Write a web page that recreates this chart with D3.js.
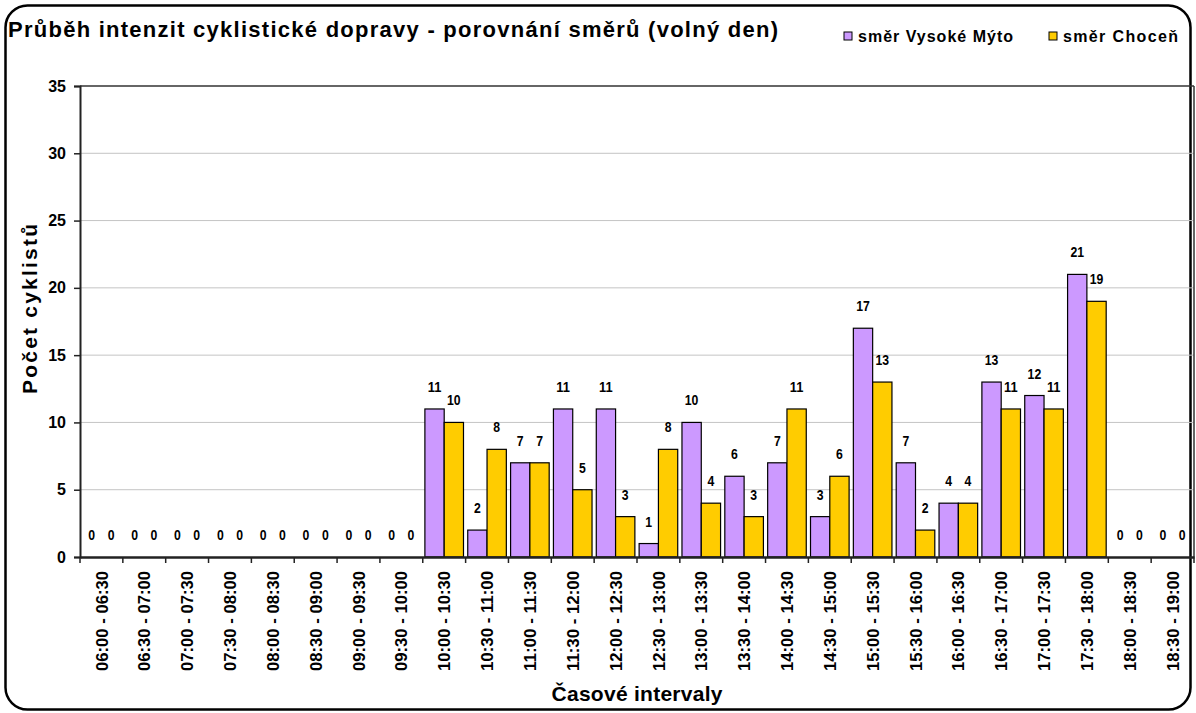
<!DOCTYPE html>
<html>
<head>
<meta charset="utf-8">
<script src="https://cdn.jsdelivr.net/npm/d3@7"></script>
<style>
  body { margin: 0; background: #fff; }
  svg text { font-family: Arial, "Liberation Sans", sans-serif; font-weight: bold; }
</style>
</head>
<body>
<svg id="chart" width="1196" height="713"></svg>
<script>
// časové intervaly
var categories = ["06:00 - 06:30", "06:30 - 07:00", "07:00 - 07:30", "07:30 - 08:00",
    "08:00 - 08:30", "08:30 - 09:00", "09:00 - 09:30", "09:30 - 10:00",
    "10:00 - 10:30", "10:30 - 11:00", "11:00 - 11:30", "11:30 - 12:00",
    "12:00 - 12:30", "12:30 - 13:00", "13:00 - 13:30", "13:30 - 14:00",
    "14:00 - 14:30", "14:30 - 15:00", "15:00 - 15:30", "15:30 - 16:00",
    "16:00 - 16:30", "16:30 - 17:00", "17:00 - 17:30", "17:30 - 18:00",
    "18:00 - 18:30", "18:30 - 19:00"];
var vysokeMyto = [0, 0, 0, 0, 0, 0, 0, 0, 11, 2, 7, 11, 11, 1, 10, 6, 7, 3, 17, 7, 4, 13, 12, 21, 0, 0];
var chocen = [0, 0, 0, 0, 0, 0, 0, 0, 10, 8, 7, 5, 3, 8, 4, 3, 11, 6, 13, 2, 4, 11, 11, 19, 0, 0];
var seriesNames = ["směr Vysoké Mýto", "směr Choceň"];
var yTicks = [0, 5, 10, 15, 20, 25, 30, 35];

var colors = ["#CC99FF", "#FFCC00"];

var svg = d3.select("#chart"),
    width = +svg.attr("width"),
    height = +svg.attr("height");

// pozor: "top" je v prohlížeči window.top, proto jiná jména
var plotLeft = 80, plotRight = 1194, plotTop = 86, plotBottom = 557;

// rámeček
svg.append("rect")
    .attr("x", 5.5).attr("y", 5.5)
    .attr("width", width - 11).attr("height", height - 9)
    .attr("rx", 22).attr("ry", 22)
    .attr("fill", "#fff").attr("stroke", "#000").attr("stroke-width", 2.5);

var x = d3.scaleBand().domain(categories).range([plotLeft, plotRight]);
var x1 = d3.scaleBand().domain([0, 1]).range([0, x.bandwidth()]).paddingOuter(0.11);
var y = d3.scaleLinear().domain([0, 35]).range([plotBottom, plotTop]);

// mřížka
svg.append("g").selectAll("line").data(yTicks.filter(function(d){ return d > 0; }))
    .enter().append("line")
    .attr("x1", plotLeft).attr("x2", plotRight)
    .attr("y1", function(d){ return y(d); }).attr("y2", function(d){ return y(d); })
    .attr("stroke", function(d){ return d == 35 ? "#333" : "#c4c4c4"; })
    .attr("stroke-width", function(d){ return d == 35 ? 1.5 : 1; });

// pravý okraj plochy
svg.append("line").attr("x1", plotRight).attr("x2", plotRight).attr("y1", plotTop).attr("y2", plotBottom)
    .attr("stroke", "#333").attr("stroke-width", 1.5);

var data = categories.map(function(c, i) {
    return { cat: c, values: [vysokeMyto[i], chocen[i]] };
});

var groups = svg.append("g").selectAll("g").data(data).enter().append("g")
    .attr("transform", function(d){ return "translate(" + x(d.cat) + ",0)"; });

groups.selectAll("rect").data(function(d){ return d.values; }).enter()
    .append("rect")
    .attr("x", function(v, j){ return x1(j); })
    .attr("y", function(v){ return y(v); })
    .attr("width", x1.bandwidth())
    .attr("height", function(v){ return plotBottom - y(v); })
    .attr("fill", function(v, j){ return colors[j]; })
    .attr("stroke", "#000").attr("stroke-width", 1.2)
    .style("display", function(v){ return v > 0 ? null : "none"; });

// popisky hodnot (úzké, vyšší písmo jako v Excelu)
groups.selectAll("text").data(function(d){ return d.values; }).enter()
    .append("text")
    .attr("x", function(v, j){ return x1(j) + x1.bandwidth() / 2; })
    .attr("y", function(v){ return y(v) - 17; })
    .attr("text-anchor", "middle")
    .style("font-size", "15px")
    .attr("textLength", function(v){ return String(v).length * 6.8; })
    .attr("lengthAdjust", "spacingAndGlyphs")
    .text(function(v){ return v; });

// osa y
var yAxis = d3.axisLeft(y).tickValues(yTicks).tickSize(6).tickPadding(8);
var gy = svg.append("g").attr("transform", "translate(" + plotLeft + ",0)").call(yAxis);
gy.select(".domain").attr("stroke", "#222").attr("stroke-width", 2);
gy.selectAll(".tick line").attr("stroke", "#222").attr("stroke-width", 1.5);
gy.selectAll("text").style("font-size", "16px").style("font-weight", "bold").attr("fill", "#000")
    .style("font-family", "Arial, 'Liberation Sans', sans-serif");

// osa x
var xAxis = d3.axisBottom(x).tickSize(0).tickPadding(0);
var gx = svg.append("g").attr("transform", "translate(0," + plotBottom + ")").call(xAxis);
gx.select(".domain").attr("stroke", "#222").attr("stroke-width", 2.5);
gx.selectAll(".tick text")
    .attr("transform", "translate(0,14) rotate(-90)")
    .attr("x", 0).attr("y", 0).attr("dy", "0.36em")
    .attr("text-anchor", "end")
    .attr("textLength", 100).attr("lengthAdjust", "spacingAndGlyphs")
    .style("font-size", "17px")
    .style("font-weight", "bold").attr("fill", "#000")
    .style("font-family", "Arial, 'Liberation Sans', sans-serif");

// dělicí čárky mezi kategoriemi
var seps = categories.map(function(d){ return x(d); }).concat([plotRight]);
gx.selectAll(".sep").data(seps).enter().append("line")
    .attr("class", "sep")
    .attr("x1", function(d){ return d; }).attr("x2", function(d){ return d; })
    .attr("y1", 0).attr("y2", 6)
    .attr("stroke", "#222").attr("stroke-width", 1.5);

// titulek
svg.append("text").attr("x", 8).attr("y", 37)
    .style("font-size", "22px")
    .attr("textLength", 770).attr("lengthAdjust", "spacing")
    .text("Průběh intenzit cyklistické dopravy - porovnání směrů (volný den)");

// legenda
var legendX = [844, 1049];
var legendW = [155, 115];
var legend = svg.append("g").selectAll("g").data(seriesNames).enter().append("g")
    .attr("transform", function(d, i){ return "translate(" + legendX[i] + ",32)"; });
legend.append("rect").attr("width", 8).attr("height", 8)
    .attr("fill", function(d, i){ return colors[i]; })
    .attr("stroke", "#000").attr("stroke-width", 1);
legend.append("text").attr("x", 14).attr("y", 10).style("font-size", "16px")
    .attr("textLength", function(d, i){ return legendW[i]; }).attr("lengthAdjust", "spacing")
    .text(function(d){ return d; });

// názvy os
svg.append("text")
    .attr("transform", "translate(37,309) rotate(-90)")
    .attr("text-anchor", "middle")
    .style("font-size", "21px")
    .attr("textLength", 170).attr("lengthAdjust", "spacing")
    .text("Počet cyklistů");
svg.append("text")
    .attr("x", 637).attr("y", 701)
    .attr("text-anchor", "middle")
    .style("font-size", "21px")
    .attr("textLength", 171).attr("lengthAdjust", "spacing")
    .text("Časové intervaly");
</script>
</body>
</html>
